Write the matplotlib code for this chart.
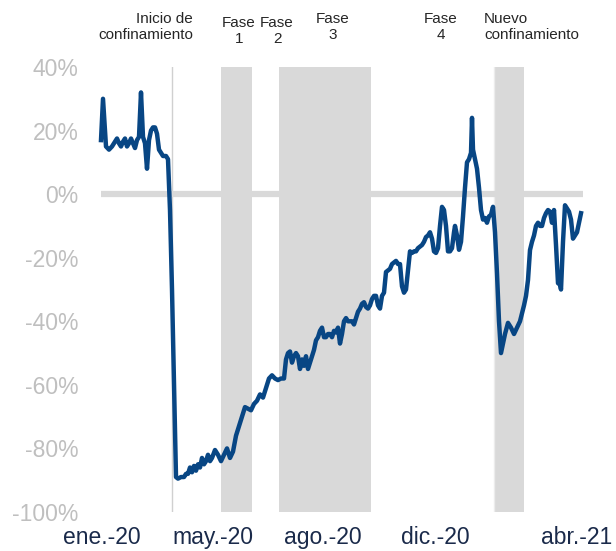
import pandas as pd
from matplotlib import pyplot as plt

# days since 1 Jan 2020 and year-on-year change (%)
day_offsets = [0, 2, 3, 5, 8, 11, 14, 16, 18, 20, 22, 24, 26, 28, 30, 32, 34, 36, 38, 40,
               42, 44, 46, 48, 50, 52, 54, 56, 58, 60, 62, 65, 67, 69, 71, 73, 75, 77, 80,
               83, 85, 87, 89, 91, 93, 95, 97, 99, 101, 103, 105, 107, 109, 111, 114, 117,
               120, 123, 126, 129, 132, 135, 138, 141, 144, 147, 150, 153, 156, 159, 162,
               165, 168, 171, 174, 177, 180, 183, 185, 187, 189, 191, 193, 195, 197, 199,
               201, 203, 205, 207, 209, 211, 213, 215, 217, 219, 221, 223, 225, 227, 229,
               231, 233, 235, 237, 239, 241, 243, 245, 247, 249, 251, 253, 255, 257, 259,
               261, 263, 265, 267, 269, 271, 273, 275, 277, 279, 281, 283, 285, 287, 289,
               291, 293, 295, 297, 299, 301, 303, 305, 307, 309, 311, 313, 315, 317, 319,
               321, 323, 325, 327, 329, 331, 333, 335, 337, 339, 341, 343, 345, 347, 349,
               351, 353, 354, 356, 358, 360, 362, 364, 366, 368, 370, 371, 372, 374, 376,
               378, 380, 382, 384, 386, 388, 390, 392, 394, 396, 398, 400, 402, 404, 407,
               410, 413, 416, 419, 421, 423, 425, 427, 429, 431, 433, 435, 437, 439, 441,
               443, 445, 447, 449, 451, 453, 455, 457, 459, 460, 462, 464, 466, 468, 470,
               472, 474, 476, 478, 480]
change = [17, 30, 25, 15, 14, 15, 16.5, 17.5, 16, 15, 16.5, 17.5, 15, 16, 17.5, 16, 14.5, 17, 18, 32,
          18, 16, 8, 17, 20, 21, 21, 19, 14, 13, 12, 12, 11, -5, -30, -60, -89, -89.5, -89,
          -89, -88, -88, -86, -87.5, -85.5, -87, -85, -86, -83, -85, -84, -82, -84, -83,
          -80.5, -82, -84, -82, -80, -83, -81, -76, -73, -70, -67, -67.5, -68, -66, -65,
          -63, -64, -61, -58, -57, -58, -58.5, -58, -58, -52, -50, -49.5, -53, -51, -50,
          -51, -55, -52, -54, -51, -55, -53, -51, -49, -46, -45, -43, -42, -45, -45, -44,
          -44, -45, -43, -43.5, -42, -47, -44, -40, -39, -40, -40, -40, -41, -39, -37,
          -36, -34.5, -34, -35.5, -36, -35, -33, -32, -32, -35, -36, -32, -31, -24.5, -24,
          -23.5, -22, -21.5, -21, -22, -22, -29, -31, -30, -24, -18, -18.5, -18, -18, -17,
          -16.5, -16, -15, -13.5, -13, -12, -14, -18, -18.5, -17, -10, -4, -5, -10, -18,
          -18, -17, -12, -10, -13, -17.5, -15, -7, 2, 10, 11, 13, 24, 14, 11, 8, 2, -5, -8,
          -7.5, -9, -7, -6.5, -4, -12, -25, -40, -50, -47, -44, -40.5, -42, -44, -42, -40,
          -37.5, -35, -32, -27, -17.6, -15, -13, -10, -9, -10, -10, -7.5, -6, -5, -5.5, -9,
          -5, -16, -28, -28.5, -30, -15, -3.5, -4.5, -5.5, -8, -14, -13, -12, -9, -6]

start = pd.Timestamp('2020-01-01')
dates = start + pd.to_timedelta(day_offsets, unit='D')

lockdown_start = '2020-03-12'
shaded_periods = [('2020-04-30', '2020-05-31'), ('2020-06-27', '2020-09-27'),
                  ('2021-01-29', '2021-02-27')]

tick_dates = ['2020-01-02', '2020-04-22', '2020-08-10', '2020-11-30', '2021-04-21']
tick_labels = ['ene.-20', 'may.-20', 'ago.-20', 'dic.-20', 'abr.-21']
y_ticks = [40, 20, 0, -20, -40, -60, -80, -100]

plt.rcParams['font.family'] = ['Liberation Sans', 'DejaVu Sans']

W, H = 616, 551
fig = plt.figure(figsize=(W / 100, H / 100), dpi=100)
ax = fig.add_axes([98 / W, 1 - 512 / H, (590 - 98) / W, (512 - 67) / H])

for a, b in shaded_periods:
    ax.axvspan(pd.Timestamp(a), pd.Timestamp(b), color='#d9d9d9', lw=0, zorder=1)
ax.axvline(pd.Timestamp(lockdown_start), color='#d0d0d0', lw=1, zorder=1)
ax.axvline(pd.Timestamp('2021-01-28'), color='#ececec', lw=1, zorder=1)

ax.hlines(0, dates[0], dates[-1] + pd.Timedelta(days=2), color='#d9d9d9', lw=4.5, zorder=2)
ax.plot(dates, change, color='#084684', lw=3.2, solid_joinstyle='round', zorder=3)

ax.set_xlim(start - pd.Timedelta(days=3), start + pd.Timedelta(days=489))
ax.set_ylim(-100, 40)
ax.set_yticks(y_ticks)
ax.set_yticklabels([f'{v}%' for v in y_ticks], fontsize=16.5, color='#bfbfbf')
ax.set_xticks(pd.to_datetime(tick_dates))
ax.set_xticklabels(tick_labels, fontsize=16.5, color='#1a2a4a')
ax.tick_params(axis='y', length=0, pad=14)
ax.tick_params(axis='x', length=0, pad=10)
for s in ax.spines.values():
    s.set_visible(False)

txt = dict(fontsize=11, color='#262626', linespacing=1.15, va='center')
fig.text(193 / W, 1 - 27 / H, 'Inicio de\nconfinamiento', ha='right', multialignment='right', **txt)
fig.text(239 / W, 1 - 31 / H, 'Fase\n1', ha='center', **txt)
fig.text(277 / W, 1 - 31 / H, 'Fase\n2', ha='center', **txt)
fig.text(333 / W, 1 - 27 / H, 'Fase\n3', ha='center', **txt)
fig.text(441 / W, 1 - 27 / H, 'Fase\n4', ha='center', **txt)
fig.text(484 / W, 1 - 27 / H, 'Nuevo\nconfinamiento', ha='left', multialignment='left', **txt)

fig.savefig('out.png', dpi=100)
